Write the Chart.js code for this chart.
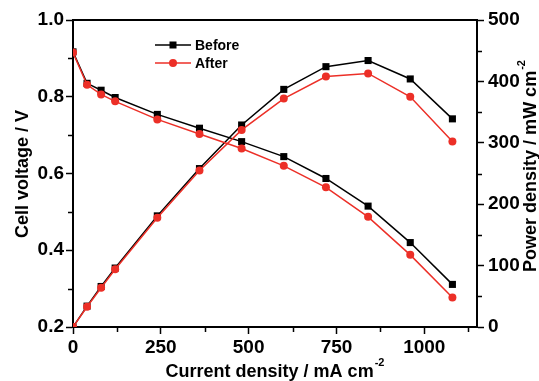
<!DOCTYPE html>
<html>
<head>
<meta charset="utf-8">
<script src="https://cdn.jsdelivr.net/npm/chart.js@4.4.1/dist/chart.umd.min.js"></script>
<style>
  html, body { margin: 0; padding: 0; background: #fff; }
</style>
</head>
<body>
<canvas id="myChart" width="539" height="381"></canvas>
<script>
// data
const currentDensity = [0, 40, 80, 120, 240, 360, 480, 600, 720, 840, 960, 1080];
const voltageBefore = [0.917, 0.835, 0.817, 0.798, 0.754, 0.718, 0.683, 0.644, 0.587, 0.515, 0.420, 0.311];
const voltageAfter = [0.915, 0.831, 0.806, 0.788, 0.741, 0.703, 0.665, 0.620, 0.564, 0.487, 0.388, 0.277];
const powerBefore = [0, 34, 66, 96, 181, 258, 329, 387, 424, 434, 404, 339];
const powerAfter = [0, 33, 64, 94, 178, 255, 321, 372, 408, 413, 375, 302];

const xTicks = [0, 250, 500, 750, 1000];
const xMinor = [125, 375, 625, 875, 1125];
const voltMinor = [0.3, 0.5, 0.7, 0.9];
const powerMinor = [50, 150, 250, 350, 450];

const seriesNames = ['Before', 'After'];
const black = '#000000';
const red = '#ec2f27';

let ctx = document.getElementById('myChart').getContext('2d');
Chart.defaults.font.family = "'Liberation Sans', Arial, sans-serif";
Chart.defaults.color = '#000';

function pts(ys) {
  return currentDensity.map((x, i) => ({ x: x, y: ys[i] }));
}

function makeSet(label, data, color, style, axis, order) {
  return {
    label: label,
    data: pts(data),
    yAxisID: axis,
    borderColor: color,
    backgroundColor: color,
    borderWidth: 1.5,
    pointStyle: style,
    pointRadius: style == 'rect' ? 5 : 4,
    pointBorderWidth: 0,
    pointHoverRadius: 4,
    tension: 0,
    order: order
  };
}

// extra bits: top frame line, minor ticks, legend and axis titles
const extras = {
  id: 'extras',
  afterDraw(chart) {
    const c = chart.ctx;
    const a = chart.chartArea;
    const sx = chart.scales.x, sy = chart.scales.y, sy1 = chart.scales.y1;
    c.save();
    c.strokeStyle = black;
    c.lineWidth = 2;
    c.beginPath();
    c.moveTo(a.left - 1, a.top);
    c.lineTo(a.right + 1, a.top);
    c.stroke();

    c.lineWidth = 1.5;
    c.beginPath();
    xMinor.forEach(v => {
      let p = Math.round(sx.getPixelForValue(v)) + 0.5;
      c.moveTo(p, a.bottom); c.lineTo(p, a.bottom + 5);
    });
    voltMinor.forEach(v => {
      let p = Math.round(sy.getPixelForValue(v)) + 0.5;
      c.moveTo(a.left, p); c.lineTo(a.left - 5, p);
    });
    powerMinor.forEach(v => {
      let p = Math.round(sy1.getPixelForValue(v)) + 0.5;
      c.moveTo(a.right, p); c.lineTo(a.right + 5, p);
    });
    c.stroke();

    // legend
    const legendRows = [
      { y: 45, color: black, style: 'rect' },
      { y: 63, color: red, style: 'circle' }
    ];
    c.font = "bold 14px 'Liberation Sans', Arial, sans-serif";
    c.textBaseline = 'middle';
    c.textAlign = 'left';
    legendRows.forEach((r, i) => {
      c.strokeStyle = r.color;
      c.fillStyle = r.color;
      c.lineWidth = 1.5;
      c.beginPath();
      c.moveTo(155, r.y); c.lineTo(191, r.y);
      c.stroke();
      if (r.style == 'rect') {
        c.fillRect(169.5, r.y - 3.5, 7, 7);
      } else {
        c.beginPath(); c.arc(173, r.y, 4, 0, Math.PI * 2); c.fill();
      }
      c.fillStyle = black;
      c.fillText(seriesNames[i], 195, r.y + 1);
    });

    // axis titles
    const big = "bold 18px 'Liberation Sans', Arial, sans-serif";
    const small = "bold 11px 'Liberation Sans', Arial, sans-serif";
    c.fillStyle = black;
    c.textBaseline = 'alphabetic';

    function titleWithSup(main, sup, cx, cy, rot) {
      c.save();
      c.translate(cx, cy);
      if (rot) c.rotate(-Math.PI / 2);
      c.font = big;
      let w1 = c.measureText(main).width;
      c.font = small;
      let w2 = c.measureText(sup).width;
      let start = -(w1 + w2 + 1) / 2;
      c.textAlign = 'left';
      c.font = big;
      c.fillText(main, start, 0);
      if (sup) {
        c.font = small;
        c.fillText(sup, start + w1 + 1, -11);
      }
      c.restore();
    }
    titleWithSup('Current density / mA cm', '-2', (a.left + a.right) / 2, 377, false);
    titleWithSup('Cell voltage / V', '', 28, (a.top + a.bottom) / 2, true);
    titleWithSup('Power density / mW cm', '-2', 536, 166, true);
    c.restore();
  }
};

const myChart = new Chart(ctx, {
  type: 'line',
  data: {
    datasets: [
      makeSet('Before', voltageBefore, black, 'rect', 'y', 1),
      makeSet('After', voltageAfter, red, 'circle', 'y', 0),
      makeSet('Before', powerBefore, black, 'rect', 'y1', 1),
      makeSet('After', powerAfter, red, 'circle', 'y1', 0)
    ]
  },
  options: {
    responsive: false,
    animation: false,
    layout: { padding: { top: 20, left: 0, right: 0, bottom: 0 } },
    plugins: {
      legend: { display: false },
      tooltip: { enabled: false }
    },
    scales: {
      x: {
        type: 'linear',
        min: 0,
        max: 1150,
        afterFit: s => { s.height = 54; },
        afterBuildTicks: s => { s.ticks = xTicks.map(v => ({ value: v })); },
        ticks: { font: { size: 19, weight: 'bold' }, padding: 2, maxRotation: 0, callback: v => String(v) },
        grid: { drawOnChartArea: false, tickLength: 7, tickWidth: 1.5, tickColor: black },
        border: { color: black, width: 2 }
      },
      y: {
        position: 'left',
        min: 0.2,
        max: 1.0,
        afterFit: s => { s.width = 73; },
        ticks: { stepSize: 0.2, font: { size: 19, weight: 'bold' }, padding: 2, callback: v => v.toFixed(1) },
        grid: { drawOnChartArea: false, tickLength: 7, tickWidth: 1.5, tickColor: black },
        border: { color: black, width: 2 }
      },
      y1: {
        position: 'right',
        min: 0,
        max: 500,
        afterFit: s => { s.width = 62; },
        ticks: { stepSize: 100, font: { size: 19, weight: 'bold' }, padding: 4 },
        grid: { drawOnChartArea: false, tickLength: 7, tickWidth: 1.5, tickColor: black },
        border: { color: black, width: 2 }
      }
    }
  },
  plugins: [extras]
});
</script>
</body>
</html>
